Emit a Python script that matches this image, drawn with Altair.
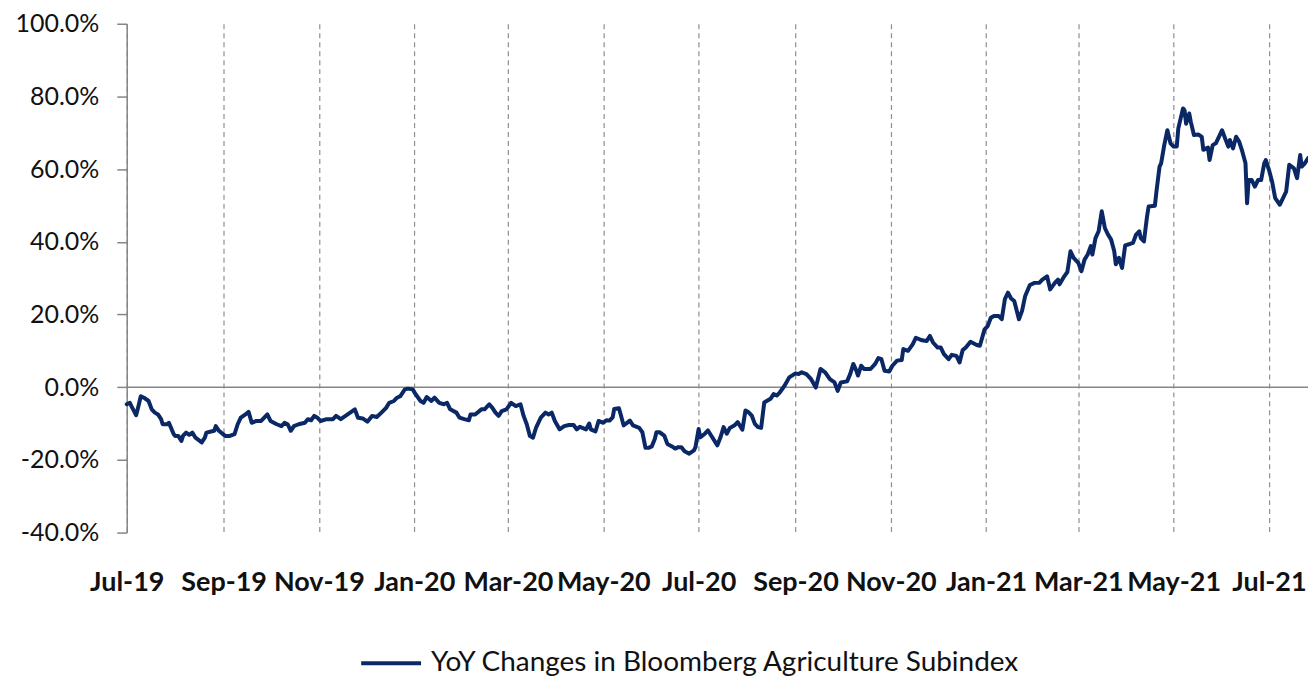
import altair as alt
import pandas as pd

start_date = "2019-07-01"
series_name = "YoY Changes in Bloomberg Agriculture Subindex"

# day offsets from start_date and YoY change (%)
days_a = [0, 2, 3, 6, 7, 9, 11, 14, 16, 18,
          20, 22, 23, 26, 27, 30, 31, 33, 35, 36,
          38, 40, 42, 44, 48, 50, 51, 54, 56, 57,
          59, 63, 66, 69, 71, 73, 76, 78, 80, 83,
          86, 88, 90, 92, 96, 99, 101, 103, 105, 107,
          110, 114, 116, 118, 120, 122, 124, 128, 132, 134,
          137, 140, 143, 146, 148, 151, 154]
yoy_a = [-4.7, -4.3, -5.2, -7.7, -6.1, -2.5, -2.9, -3.8, -6.1, -7.0,
         -7.5, -8.8, -10.2, -10.2, -9.8, -12.9, -13.4, -13.4, -14.8, -13.4,
         -12.5, -13.1, -12.5, -13.9, -15.2, -13.9, -12.5, -12.2, -12.0, -10.7,
         -12.0, -13.4, -13.4, -12.9, -10.2, -8.4, -7.5, -6.8, -9.8, -9.3,
         -9.3, -8.4, -7.5, -9.3, -10.2, -10.7, -9.8, -10.2, -12.0, -10.7,
         -10.2, -9.8, -8.8, -9.1, -7.9, -8.4, -9.3, -8.8, -8.8, -7.9,
         -8.8, -7.9, -7.0, -6.1, -8.4, -8.6, -9.5]

days_b = [157, 160, 163, 166, 168, 171, 173, 175, 178, 180,
          183, 185, 188, 190, 192, 195, 197, 200, 203, 205,
          207, 211, 213, 216, 219, 220, 223, 227, 229, 232,
          234, 236, 238, 240, 243, 246, 249, 252, 254, 256,
          258, 260, 262, 265, 268, 270, 272, 274, 277, 280,
          283, 286, 288, 290, 294, 296, 297, 300, 302, 305,
          307]
yoy_b = [-7.9, -8.2, -7.0, -5.7, -4.3, -3.8, -2.9, -2.5, -0.6, -0.4,
         -0.6, -2.0, -3.8, -4.3, -2.7, -3.8, -2.9, -4.3, -4.7, -4.3,
         -6.1, -7.0, -8.4, -8.8, -9.1, -7.5, -7.5, -6.1, -6.1, -4.7,
         -5.7, -7.0, -7.9, -6.6, -6.1, -4.3, -5.2, -4.7, -7.9, -10.2,
         -13.4, -13.9, -11.1, -8.4, -7.0, -7.5, -7.0, -9.3, -11.6, -10.7,
         -10.4, -10.4, -11.6, -10.9, -11.6, -10.0, -11.6, -12.2, -9.3, -9.8,
         -9.1]

days_c = [309, 311, 312, 315, 316, 318, 320, 322, 324, 328,
          330, 332, 334, 336, 338, 339, 341, 344, 346, 349,
          351, 353, 355, 357, 360, 363, 364, 366, 367, 370,
          372, 374, 378, 380, 382, 384, 386, 389, 391, 394,
          396, 398, 400, 402, 404, 406, 408, 412, 414, 416,
          418, 421, 424, 428, 430, 432, 435, 438, 441, 444,
          447, 450, 453, 455, 457, 461]
yoy_c = [-9.2, -8.3, -6.0, -5.8, -7.3, -10.5, -9.9, -9.2, -10.5, -11.2,
         -12.4, -16.7, -16.7, -16.3, -14.2, -12.4, -12.4, -13.3, -15.6, -16.3,
         -16.9, -16.5, -16.5, -17.6, -18.3, -17.4, -16.5, -11.5, -13.8, -12.8,
         -11.9, -13.3, -16.0, -13.8, -11.0, -12.8, -11.2, -10.5, -9.6, -11.7,
         -6.4, -6.9, -7.8, -10.1, -11.0, -11.2, -4.2, -3.2, -1.9, -2.3,
         -1.4, 0.4, 2.7, 3.8, 3.6, 4.1, 3.6, 2.2, -0.1, 5.0,
         4.1, 2.2, 1.3, -1.0, 1.3, 1.6]

days_d = [463, 465, 467, 468, 470, 472, 476, 479, 481, 483,
          485, 488, 490, 493, 496, 497, 500, 503, 505, 509,
          512, 514, 516, 519, 521, 523, 526, 528, 531, 533,
          535, 537, 540, 544, 546, 549, 551, 553, 555, 558,
          560, 562, 564, 566, 568, 571, 573, 575, 578, 581,
          584, 586, 589, 591, 594, 596, 597, 600, 602, 604,
          606, 609, 611, 613, 615]
yoy_d = [3.6, 6.4, 4.5, 3.2, 5.9, 5.0, 5.0, 6.4, 8.0, 7.7,
         4.5, 4.3, 5.9, 7.3, 7.5, 10.5, 10.0, 11.8, 13.6, 12.9,
         12.7, 14.1, 12.3, 10.9, 10.9, 9.1, 7.7, 8.9, 8.6, 6.8,
         10.2, 10.9, 12.5, 11.6, 11.4, 15.9, 16.8, 19.1, 19.6, 19.6,
         18.7, 24.2, 26.0, 24.4, 23.7, 18.7, 21.0, 25.1, 28.1, 28.7,
         28.7, 29.6, 30.5, 26.9, 28.7, 29.6, 28.3, 30.5, 31.7, 37.4,
         35.6, 34.2, 31.9, 35.1, 36.5]

days_e = [617, 618, 620, 622, 624, 626, 628, 630, 632, 633,
          635, 637, 639, 642, 644, 646, 648, 649, 651, 653,
          654, 658, 659, 661, 662, 664, 666, 668, 670, 672,
          673, 676, 677, 678, 680, 681, 683, 686, 688, 689,
          692, 693, 695, 697, 699, 701, 703, 705, 706, 708,
          710, 712, 714, 716, 717, 718, 720, 722, 724, 726,
          728, 729, 731, 733, 735, 738, 742, 744, 747, 749,
          751, 752, 754, 756]
yoy_e = [38.8, 36.5, 41.0, 42.9, 48.4, 43.8, 42.0, 40.6, 37.4, 33.8,
         35.6, 32.8, 39.0, 39.4, 39.7, 42.0, 42.9, 41.0, 40.1, 47.0,
         49.7, 49.9, 53.8, 60.7, 61.6, 66.6, 70.7, 67.1, 66.2, 66.2,
         71.2, 76.7, 76.2, 72.5, 75.3, 73.0, 69.4, 69.5, 68.9, 65.3,
         65.9, 62.5, 66.6, 67.1, 68.9, 70.7, 68.4, 66.2, 68.0, 65.7,
         68.9, 67.5, 64.8, 61.6, 50.6, 57.0, 57.0, 55.2, 57.0, 57.0,
         61.6, 62.5, 59.8, 56.6, 52.0, 50.2, 53.8, 61.2, 60.2, 57.5,
         63.9, 60.7, 61.6, 63.0]

tick_dates = [(2019, 7), (2019, 9), (2019, 11), (2020, 1), (2020, 3), (2020, 5),
              (2020, 7), (2020, 9), (2020, 11), (2021, 1), (2021, 3), (2021, 5),
              (2021, 7)]
x_domain = [(2019, 7, 1), (2021, 7, 26)]
y_ticks = [-40, -20, 0, 20, 40, 60, 80, 100]
y_domain = [-40, 100]
zero_line = [0]

days = days_a + days_b + days_c + days_d + days_e
yoy = yoy_a + yoy_b + yoy_c + yoy_d + yoy_e
dates = (pd.Timestamp(start_date) + pd.to_timedelta(days, unit="D")).strftime("%Y-%m-%d")
df = pd.DataFrame({"date": list(dates), "yoy": yoy, "series": series_name})

FONT = "Lato"
AXIS_GRAY = "#868686"
LINE_COLOR = "#0b2866"

x_scale = alt.Scale(
    type="utc",
    domain=[alt.DateTime(year=y, month=m, date=d, utc=True) for (y, m, d) in x_domain],
    nice=False,
)
y_scale = alt.Scale(domain=y_domain, nice=False, zero=False)

x_axis = alt.Axis(
    values=[alt.DateTime(year=y, month=m, date=1, utc=True) for (y, m) in tick_dates],
    labelExpr="utcFormat(datum.value, '%b-%y')",
    grid=True,
    gridDash=[5, 4],
    gridColor="#8f8f8f",
    gridWidth=1.2,
    domain=False,
    ticks=False,
    tickSize=0,
    labelFont=FONT,
    labelFontWeight="bold",
    labelFontSize=27,
    labelColor="#111111",
    labelBaseline="middle",
    labelPadding=50,
    labelFlush=False,
    labelOverlap=False,
    title=None,
)

y_axis = alt.Axis(
    values=y_ticks,
    labelExpr="(datum.value < 0 ? '-' : '') + format(abs(datum.value), '.1f') + '%'",
    grid=False,
    domainColor=AXIS_GRAY,
    domainWidth=1.5,
    tickColor=AXIS_GRAY,
    tickWidth=1.5,
    tickSize=10,
    labelFont=FONT,
    labelFontSize=25,
    labelColor="#111111",
    labelPadding=18,
    title=None,
)

line = alt.Chart(df).mark_line(strokeWidth=4, strokeJoin="round", strokeCap="round").encode(
    x=alt.X("date:T", scale=x_scale, axis=x_axis),
    y=alt.Y("yoy:Q", scale=y_scale, axis=y_axis),
    color=alt.Color(
        "series:N",
        scale=alt.Scale(range=[LINE_COLOR]),
        title=None,
        legend=alt.Legend(
            orient="none",
            legendX=233,
            legendY=609,
            padding=0,
            symbolType="stroke",
            symbolSize=3600,
            symbolStrokeWidth=4,
            labelFont=FONT,
            labelFontSize=28,
            labelColor="#111111",
            labelOffset=8,
            labelLimit=900,
        ),
    ),
)

zero = alt.Chart(pd.DataFrame({"v": zero_line})).mark_rule(color=AXIS_GRAY, strokeWidth=1.5).encode(
    y=alt.Y("v:Q", scale=y_scale)
)

chart = (
    alt.layer(zero, line)
    .properties(
        width=1184,
        height=510,
        autosize=alt.AutoSizeParams(type="none"),
        padding={"left": 119, "top": 15, "right": 0, "bottom": 143},
    )
    .configure_view(stroke=None)
)

chart.save("out.html", embed_options={"renderer": "svg", "actions": False})
